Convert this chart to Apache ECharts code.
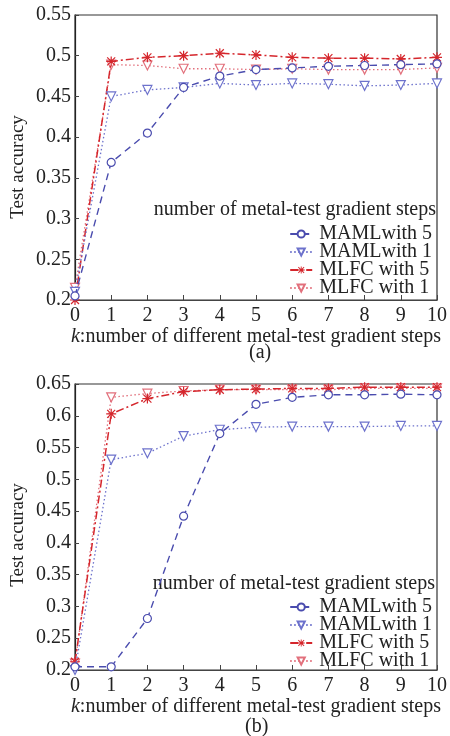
<!DOCTYPE html>
<html><head><meta charset="utf-8">
<script src="https://cdn.jsdelivr.net/npm/echarts@6/dist/echarts.min.js"></script>
<style>html,body{margin:0;padding:0;background:#fff}#c{width:450px;height:736px}</style>
</head><body><div id="c"></div>
<script>
const kSteps = [0,1,2,3,4,5,6,7,8,9,10];
const seriesNames = ['MAMLwith 5','MAMLwith 1','MLFC with 5','MLFC with 1'];
// panel (a)
const a_maml5 = [0.205,0.369,0.405,0.461,0.475,0.483,0.485,0.487,0.488,0.489,0.490];
const a_maml1 = [0.210,0.450,0.458,0.461,0.466,0.464,0.466,0.465,0.463,0.464,0.466];
const a_mlfc5 = [0.200,0.493,0.498,0.500,0.503,0.501,0.498,0.497,0.497,0.496,0.498];
const a_mlfc1 = [0.215,0.489,0.488,0.484,0.484,0.483,0.484,0.483,0.483,0.483,0.485];
// panel (b)
const b_maml5 = [0.205,0.205,0.281,0.442,0.572,0.618,0.629,0.633,0.633,0.634,0.633];
const b_maml1 = [0.200,0.531,0.541,0.568,0.578,0.582,0.583,0.583,0.583,0.584,0.584];
const b_mlfc5 = [0.213,0.603,0.627,0.638,0.641,0.642,0.643,0.643,0.645,0.645,0.645];
const b_mlfc1 = [0.210,0.629,0.635,0.639,0.641,0.641,0.641,0.641,0.643,0.643,0.643];
const yTicksA = {min:0.2,max:0.55,interval:0.05};
const yTicksB = {min:0.2,max:0.65,interval:0.05};
const legendTitle = 'number of metal-test gradient steps';
const xName = '{i|k}:number of different metal-test gradient steps';
const yName = 'Test accuracy';

const FONT = '"Liberation Serif","DejaVu Serif",serif';
const BLUE = '#4a4cae', BLUE2 = '#6d72cc', RED = '#d5262c', RED2 = '#e2707c';
const asterisk = 'path://M4.4 0L5.6 0L5.6 10L4.4 10Z M0 4.4L10 4.4L10 5.6L0 5.6Z M1.42 0.58L9.42 8.58L8.58 9.42L0.58 1.42Z M9.42 1.42L1.42 9.42L0.58 8.58L8.58 0.58Z';

const styles = [
  {color:BLUE, symbol:'circle', size:8, type:[7,5], width:1.4, hollow:true},
  {color:BLUE2, symbol:'path://M0 0L10 0L5 9Z', size:9, type:[1.5,2.5], width:1.3, hollow:true},
  {color:RED, symbol:asterisk, size:10, type:[8,3,2,3], width:1.5, hollow:false},
  {color:RED2, symbol:'path://M0 0L10 0L5 9Z', size:9, type:[1.5,2.5], width:1.3, hollow:true}
];

function mkSeries(idx, arr, gi){
  const s = styles[idx];
  return {
    name: seriesNames[idx], type:'line', xAxisIndex:gi, yAxisIndex:gi,
    data: kSteps.map((k,i)=>[k,arr[i]]),
    symbol: s.symbol, symbolSize: s.size, showAllSymbol:true,
    lineStyle:{color:s.color, width:s.width, type:s.type},
    itemStyle: s.hollow ? {color:'#fff', borderColor:s.color, borderWidth:1.2} : {color:s.color, borderColor:s.color, borderWidth:0},
    z: 3-idx, animation:false
  };
}

const grids = [
  {left:75, right:12, top:15, height:285},
  {left:75, right:12, top:384, height:286}
];
function xAxis(gi){
  return {gridIndex:gi, type:'value', min:0, max:10, interval:1,
    name:xName, nameLocation:'middle', nameGap:27,
    nameTextStyle:{fontFamily:FONT, fontSize:20, color:'#222', rich:{i:{fontStyle:'italic', fontFamily:FONT, fontSize:20, color:'#222'}}},
    axisLine:{show:true, lineStyle:{color:'#444', width:1.2}},
    axisTick:{show:true, inside:true, length:5, lineStyle:{color:'#444'}},
    axisLabel:{fontFamily:FONT, fontSize:20, color:'#222', margin:6},
    splitLine:{show:false}};
}
function yAxis(gi, t){
  return {gridIndex:gi, type:'value', min:t.min, max:t.max, interval:t.interval,
    axisLine:{show:true, lineStyle:{color:'#222', width:1.2}},
    axisTick:{show:true, inside:true, length:4, lineStyle:{color:'#444'}},
    axisLabel:{fontFamily:FONT, fontSize:20, color:'#222', margin:4, formatter:v=>String(+v.toFixed(2))},
    splitLine:{show:false}};
}
function legend(top){
  return {show:true, orient:'vertical', right:13, top:top, itemGap:-2, itemWidth:22, itemHeight:9,
    data: seriesNames, align:'left',
    textStyle:{fontFamily:FONT, fontSize:20, color:'#222', padding:[0,0,0,2]},
    selectedMode:false};
}

const chart = echarts.init(document.getElementById('c'), null, {renderer:'canvas'});
chart.setOption({
  backgroundColor:'#fff',
  animation:false,
  grid: grids.map(g=>Object.assign({show:true, borderColor:'#333', borderWidth:1.2, backgroundColor:'transparent'}, g)),
  xAxis:[xAxis(0), xAxis(1)],
  yAxis:[yAxis(0,yTicksA), yAxis(1,yTicksB)],
  legend:[legend(219), legend(592)],
  graphic:[
    {type:'text', right:14, top:200, style:{text:legendTitle, font:'20px '+FONT, fill:'#222'}},
    {type:'text', right:15, top:574, style:{text:legendTitle, font:'20px '+FONT, fill:'#222'}},
    {type:'text', left:249, top:343, style:{text:'(a)', font:'20px '+FONT, fill:'#222'}},
    {type:'text', left:245, top:717, style:{text:'(b)', font:'20px '+FONT, fill:'#222'}},
    {type:'text', x:18, y:167, rotation:Math.PI/2, style:{text:yName, font:'19px '+FONT, fill:'#222', align:'center', verticalAlign:'middle'}},
    {type:'text', x:18, y:535, rotation:Math.PI/2, style:{text:yName, font:'19px '+FONT, fill:'#222', align:'center', verticalAlign:'middle'}}
  ],
  series:[
    mkSeries(0,a_maml5,0), mkSeries(1,a_maml1,0), mkSeries(2,a_mlfc5,0), mkSeries(3,a_mlfc1,0),
    mkSeries(0,b_maml5,1), mkSeries(1,b_maml1,1), mkSeries(2,b_mlfc5,1), mkSeries(3,b_mlfc1,1)
  ]
});
</script></body></html>
